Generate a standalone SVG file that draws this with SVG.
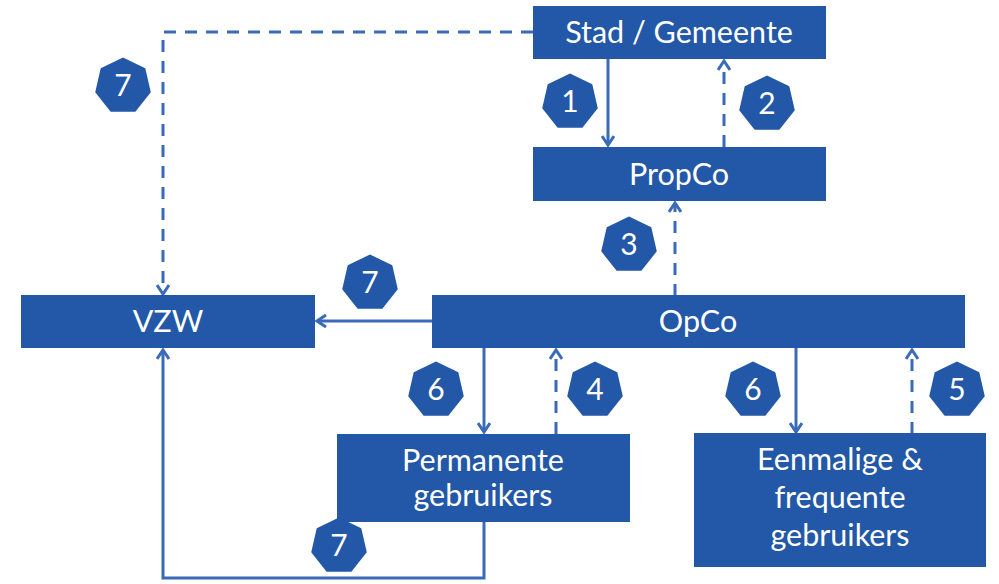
<svg xmlns="http://www.w3.org/2000/svg" width="999" height="584" viewBox="0 0 999 584">
<defs>
<style>
.box{fill:#2357A7}
.lbl{font-family:Lato,"Open Sans",sans-serif;font-size:30.5px;fill:#ffffff;text-anchor:middle}
.num{font-family:Lato,"Open Sans",sans-serif;font-size:30px;fill:#ffffff;text-anchor:middle}
.ln{fill:none;stroke:#3A6BB9;stroke-width:3}
.dash{stroke-dasharray:12 9}
.hep{fill:#2357A7}
</style>
<marker id="ah" viewBox="0 0 14 14" refX="12" refY="7" markerWidth="14" markerHeight="14" markerUnits="userSpaceOnUse" orient="auto">
<path d="M3,1 L12,7 L3,13" fill="none" stroke="#3A6BB9" stroke-width="3"/>
</marker>
<path id="hp" d="M0,-28.5 L22.28,-17.77 L27.78,6.34 L12.37,25.68 L-12.37,25.68 L-27.78,6.34 L-22.28,-17.77 Z"/>
</defs>
<rect width="999" height="584" fill="#ffffff"/>
<g id="connectors">
<path class="ln dash" d="M533,32 H163 V294" marker-end="url(#ah)"/>
<path class="ln" d="M608,59 V145" marker-end="url(#ah)"/>
<path class="ln dash" d="M724,147 V61" marker-end="url(#ah)"/>
<path class="ln dash" d="M675,296 V203" marker-end="url(#ah)"/>
<path class="ln" d="M432,321 H317" marker-end="url(#ah)"/>
<path class="ln" d="M484,348 V432" marker-end="url(#ah)"/>
<path class="ln dash" d="M556,434 V350" marker-end="url(#ah)"/>
<path class="ln" d="M796,348 V432" marker-end="url(#ah)"/>
<path class="ln dash" d="M912,434 V350" marker-end="url(#ah)"/>
<path class="ln" d="M484,522 V578 H163 V350" marker-end="url(#ah)"/>
</g>
<g id="stad"><rect class="box" x="533" y="6" width="293" height="53"/><text class="lbl" x="679" y="43">Stad / Gemeente</text></g>
<g id="propco"><rect class="box" x="533" y="147" width="293" height="54"/><text class="lbl" x="679" y="185">PropCo</text></g>
<g id="opco"><rect class="box" x="432" y="295" width="533" height="53"/><text class="lbl" x="698" y="332">OpCo</text></g>
<g id="vzw"><rect class="box" x="21" y="295" width="294" height="53"/><text class="lbl" x="168" y="332">VZW</text></g>
<g id="permanente"><rect class="box" x="337" y="434" width="293" height="88"/><text class="lbl" x="483" y="471">Permanente</text><text class="lbl" x="483" y="506">gebruikers</text></g>
<g id="eenmalige"><rect class="box" x="694" y="433" width="292" height="134"/><text class="lbl" x="840" y="470">Eenmalige &amp;</text><text class="lbl" x="840" y="508">frequente</text><text class="lbl" x="840" y="546">gebruikers</text></g>
<g id="badge-7a"><use href="#hp" class="hep" x="123" y="86"/><text class="num" x="123" y="96">7</text></g>
<g id="badge-1"><use href="#hp" class="hep" x="570" y="102"/><text class="num" x="570" y="112">1</text></g>
<g id="badge-2"><use href="#hp" class="hep" x="767" y="104"/><text class="num" x="767" y="114">2</text></g>
<g id="badge-3"><use href="#hp" class="hep" x="629" y="245"/><text class="num" x="629" y="255">3</text></g>
<g id="badge-7b"><use href="#hp" class="hep" x="370" y="283"/><text class="num" x="370" y="293">7</text></g>
<g id="badge-6a"><use href="#hp" class="hep" x="436" y="390"/><text class="num" x="436" y="400">6</text></g>
<g id="badge-4"><use href="#hp" class="hep" x="595" y="390"/><text class="num" x="595" y="400">4</text></g>
<g id="badge-6b"><use href="#hp" class="hep" x="753" y="390"/><text class="num" x="753" y="400">6</text></g>
<g id="badge-5"><use href="#hp" class="hep" x="957" y="390"/><text class="num" x="957" y="400">5</text></g>
<g id="badge-7c"><use href="#hp" class="hep" x="339" y="546"/><text class="num" x="339" y="556">7</text></g>
</svg>
